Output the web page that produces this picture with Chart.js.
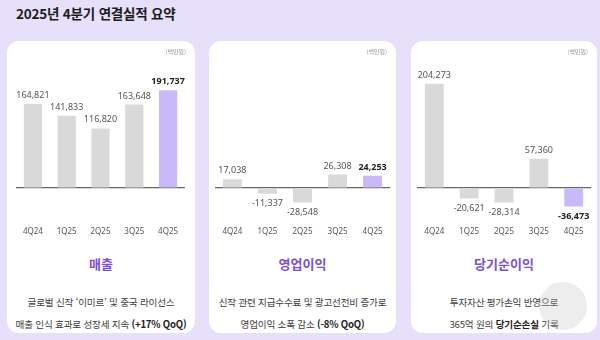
<!DOCTYPE html>
<html lang="ko">
<head>
<meta charset="utf-8">
<script src="https://cdn.jsdelivr.net/npm/chart.js@4/dist/chart.umd.min.js"></script>
<style>
  html, body { margin:0; padding:0; }
  body { width:600px; height:340px; background:#e6e0fa; position:relative; overflow:hidden;
         font-family:"Noto Sans CJK KR","Noto Sans",sans-serif; }
  .title { position:absolute; left:16px; top:3px; font-size:13.5px; font-weight:700; color:#1c1c1c; letter-spacing:-0.2px; }
  .card { position:absolute; top:41px; height:292px; background:#fff; border-radius:12px; overflow:hidden; }
  .card canvas { position:absolute; left:0; top:0; }
  .unit { position:absolute; top:6px; right:9px; font-size:6px; color:#9a9a9a; z-index:2; }
  .ctitle { position:absolute; left:0; right:0; top:213px; text-align:center; font-size:13px; font-weight:700; color:#7b50d4; }
  .desc { position:absolute; left:0; right:0; top:251px; text-align:center; font-size:9.6px; line-height:21.5px; color:#3c3c3c; letter-spacing:-0.2px; }
  .desc b { color:#222; }
  .wm { position:absolute; left:539px; top:282px; width:48px; height:48px; border-radius:50%; background:rgba(190,190,195,0.28); }
</style>
</head>
<body>
<div class="title">2025년 4분기 연결실적 요약</div>

<div class="card" id="c0" style="left:7px;width:188px;">
  <canvas id="ch0" width="188" height="210"></canvas>
  <div class="unit">(백만원)</div>
  <div class="ctitle">매출</div>
  <div class="desc">글로벌 신작 ‘이미르’ 및 중국 라이선스<br>매출 인식 효과로 성장세 지속 <b>(+17% QoQ)</b></div>
</div>
<div class="card" id="c1" style="left:209px;width:187px;">
  <canvas id="ch1" width="187" height="210"></canvas>
  <div class="unit">(백만원)</div>
  <div class="ctitle">영업이익</div>
  <div class="desc">신작 관련 지급수수료 및 광고선전비 증가로<br>영업이익 소폭 감소 <b>(-8% QoQ)</b></div>
</div>
<div class="card" id="c2" style="left:411px;width:186px;">
  <canvas id="ch2" width="186" height="210"></canvas>
  <div class="unit">(백만원)</div>
  <div class="ctitle">당기순이익</div>
  <div class="desc">투자자산 평가손익 반영으로<br>365억 원의 <b>당기순손실</b> 기록</div>
</div>
<div class="wm"></div>

<script>
const quarters = ["4Q24", "1Q25", "2Q25", "3Q25", "4Q25"];
const revenue = [164821, 141833, 116820, 163648, 191737];
const operatingProfit = [17038, -11337, -28548, 26308, 24253];
const netIncome = [204273, -20621, -28314, 57360, -36473];
const highlightIndex = 4;

const GREY = "#d9d9d9";
const PURPLE = "#c9b9f9";

const valueLabels = {
  id: "valueLabels",
  afterDatasetsDraw(chart) {
    const ctx = chart.ctx;
    const meta = chart.getDatasetMeta(0);
    const data = chart.data.datasets[0].data;
    ctx.save();
    ctx.textAlign = "center";
    meta.data.forEach((bar, i) => {
      const v = data[i];
      const hl = i === highlightIndex;
      ctx.font = (hl ? "700 " : "400 ") + "9px 'Noto Sans', sans-serif";
      ctx.fillStyle = hl ? "#222" : "#555";
      const txt = v.toLocaleString("en-US");
      if (v >= 0) {
        ctx.textBaseline = "bottom";
        ctx.fillText(txt, bar.x, bar.y - 4);
      } else {
        ctx.textBaseline = "top";
        ctx.fillText(txt, bar.x, bar.y + 5);
      }
    });
    ctx.restore();
  }
};

function makeChart(id, values, padL, padR) {
  new Chart(document.getElementById(id), {
    type: "bar",
    data: {
      labels: quarters,
      datasets: [{
        data: values,
        backgroundColor: values.map((_, i) => i === highlightIndex ? PURPLE : GREY),
        borderWidth: 0,
        barPercentage: 0.54,
        categoryPercentage: 1.0
      }]
    },
    options: {
      responsive: false,
      devicePixelRatio: 1,
      animation: false,
      layout: { padding: { top: 19.5, bottom: 0, left: padL, right: padR } },
      plugins: { legend: { display: false }, tooltip: { enabled: false } },
      scales: {
        x: {
          grid: { display: false, drawTicks: false },
          border: { display: false },
          ticks: { color: "#555", font: { size: 8, family: "'Noto Sans', sans-serif" }, padding: 13 },
          afterFit: (axis) => { axis.height = 37.5; }
        },
        y: {
          min: -50000, max: 250000,
          ticks: { display: false, stepSize: 50000 },
          grid: {
            drawTicks: false,
            color: (c) => (c.tick && c.tick.value === 0) ? "#666" : "rgba(0,0,0,0)",
            lineWidth: 1.2
          },
          border: { display: false }
        }
      }
    },
    plugins: [valueLabels]
  });
}

makeChart("ch0", revenue, 9, 10);
makeChart("ch1", operatingProfit, 4.5, 5.5);
makeChart("ch2", netIncome, 5, 4);
</script>
</body>
</html>
